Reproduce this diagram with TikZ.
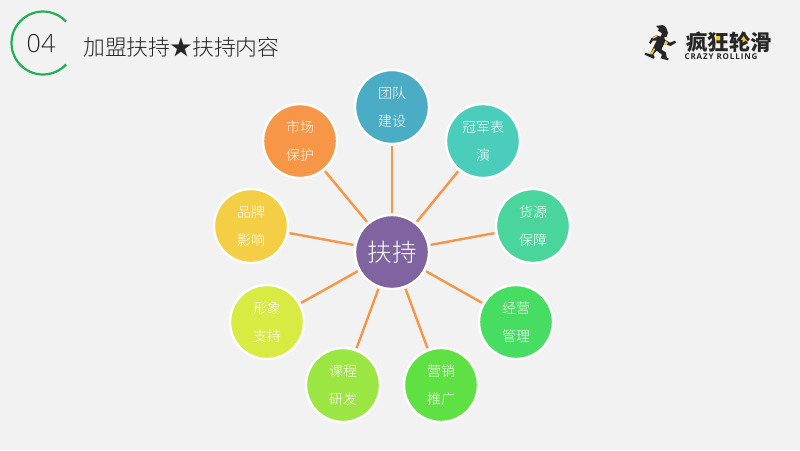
\documentclass[tikz,border=0pt]{standalone}
\usepackage{fontspec}
\setmainfont{Noto Sans CJK SC}
\newfontfamily\cjklight{Noto Sans CJK SC Light}
\newfontfamily\latin{Open Sans Light}
\newfontfamily\logolatin[LetterSpace=11]{Open Sans}
\definecolor{bgc}{HTML}{F2F2F2}
\definecolor{linkc}{HTML}{F79646}
\definecolor{ringc}{HTML}{1FB254}
\definecolor{inkc}{HTML}{262626}
\definecolor{logoy}{HTML}{F5C92E}
\definecolor{c0}{HTML}{8064A2}
\definecolor{c1}{HTML}{4BACC6}
\definecolor{c2}{HTML}{4BCDBB}
\definecolor{c3}{HTML}{4AD59C}
\definecolor{c4}{HTML}{47DD62}
\definecolor{c5}{HTML}{5FE043}
\definecolor{c6}{HTML}{9BE643}
\definecolor{c7}{HTML}{D8EB42}
\definecolor{c8}{HTML}{F4CE45}
\definecolor{c9}{HTML}{F79646}
\tikzset{
  bub/.style={circle,draw=white,line width=2.4pt,minimum size=74pt,inner sep=0pt,align=center,text=white,font=\fontsize{14}{28}\selectfont\cjklight},
  link/.style={draw=linkc,line width=2.4pt},
}
\begin{document}
\begin{tikzpicture}[x=1pt,y=-1pt]
\fill[bgc] (0,0) rectangle (800,450);
\useasboundingbox (0,0) rectangle (800,450);
% header
\draw[ringc,line width=2.2pt] (43,43) ++(43:31.5) arc[start angle=43,end angle=317,radius=31.5];
\node[text=inkc,font=\fontsize{25}{25}\selectfont\latin] (num) at (41,44) {04};
\node[anchor=west,inner sep=0pt,text=inkc,font=\fontsize{21.8}{22}\selectfont\cjklight] (title) at (83,47) {加盟扶持★扶持内容};
% nodes
\node[bub,fill=c0,font=\fontsize{24.5}{25}\selectfont\cjklight] (hub) at (392,252) {扶持};
\node[bub,fill=c1] (n1) at (392,107) {团队\\建设};
\node[bub,fill=c2] (n2) at (483,141) {冠军表\\演};
\node[bub,fill=c3] (n3) at (533,226) {货源\\保障};
\node[bub,fill=c4] (n4) at (516,322) {经营\\管理};
\node[bub,fill=c5] (n5) at (441,385) {营销\\推广};
\node[bub,fill=c6] (n6) at (343,385) {课程\\研发};
\node[bub,fill=c7] (n7) at (267,322) {形象\\支持};
\node[bub,fill=c8] (n8) at (251,226) {品牌\\影响};
\node[bub,fill=c9] (n9) at (300,141) {市场\\保护};
\foreach \n in {n1,n2,n3,n4,n5,n6,n7,n8,n9}
  \draw[link,shorten <=1pt,shorten >=1pt] (hub) -- (\n);
% logo
\begin{scope}[shift={(640,20)},x=0.3333pt,y=-0.3333pt]
\fill[inkc] (48,18) -- (68,15) -- (78,22) -- (84,38) -- (80,50) -- (72,52) -- (76,60) -- (90,68) -- (105,62) -- (108,68) -- (92,78) -- (72,72) -- (64,88) -- (78,98) -- (80,112) -- (86,116) -- (84,121) -- (62,115) -- (66,104) -- (50,92) -- (40,103) -- (44,112) -- (40,116) -- (14,104) -- (16,99) -- (30,102) -- (42,78) -- (50,62) -- (38,62) -- (32,72) -- (27,68) -- (36,52) -- (50,46) -- (62,50) -- (66,40) -- (52,30) -- (58,28) -- cycle;
\fill[logoy] (36,52) -- (50,46) -- (52,50) -- (40,56) -- cycle;
\fill[logoy] (30,102) -- (42,84) -- (45,88) -- (36,104) -- cycle;
\fill[logoy] (72,72) -- (76,62) -- (84,68) -- (80,75) -- cycle;
\end{scope}
\fill[logoy] (716,34) rectangle (722,42);
\fill[logoy] (742,36) rectangle (748,44);
\node[inner sep=0pt,text=black!85,font=\fontsize{21.5}{22}\selectfont\bfseries] (logocn) at (729,42) {疯狂轮滑};
\node[inner sep=0pt,text=black!85,font=\fontsize{8}{8}\selectfont\bfseries\logolatin] (logoen) at (721,56.5) {CRAZY ROLLING};
\end{tikzpicture}
\end{document}
